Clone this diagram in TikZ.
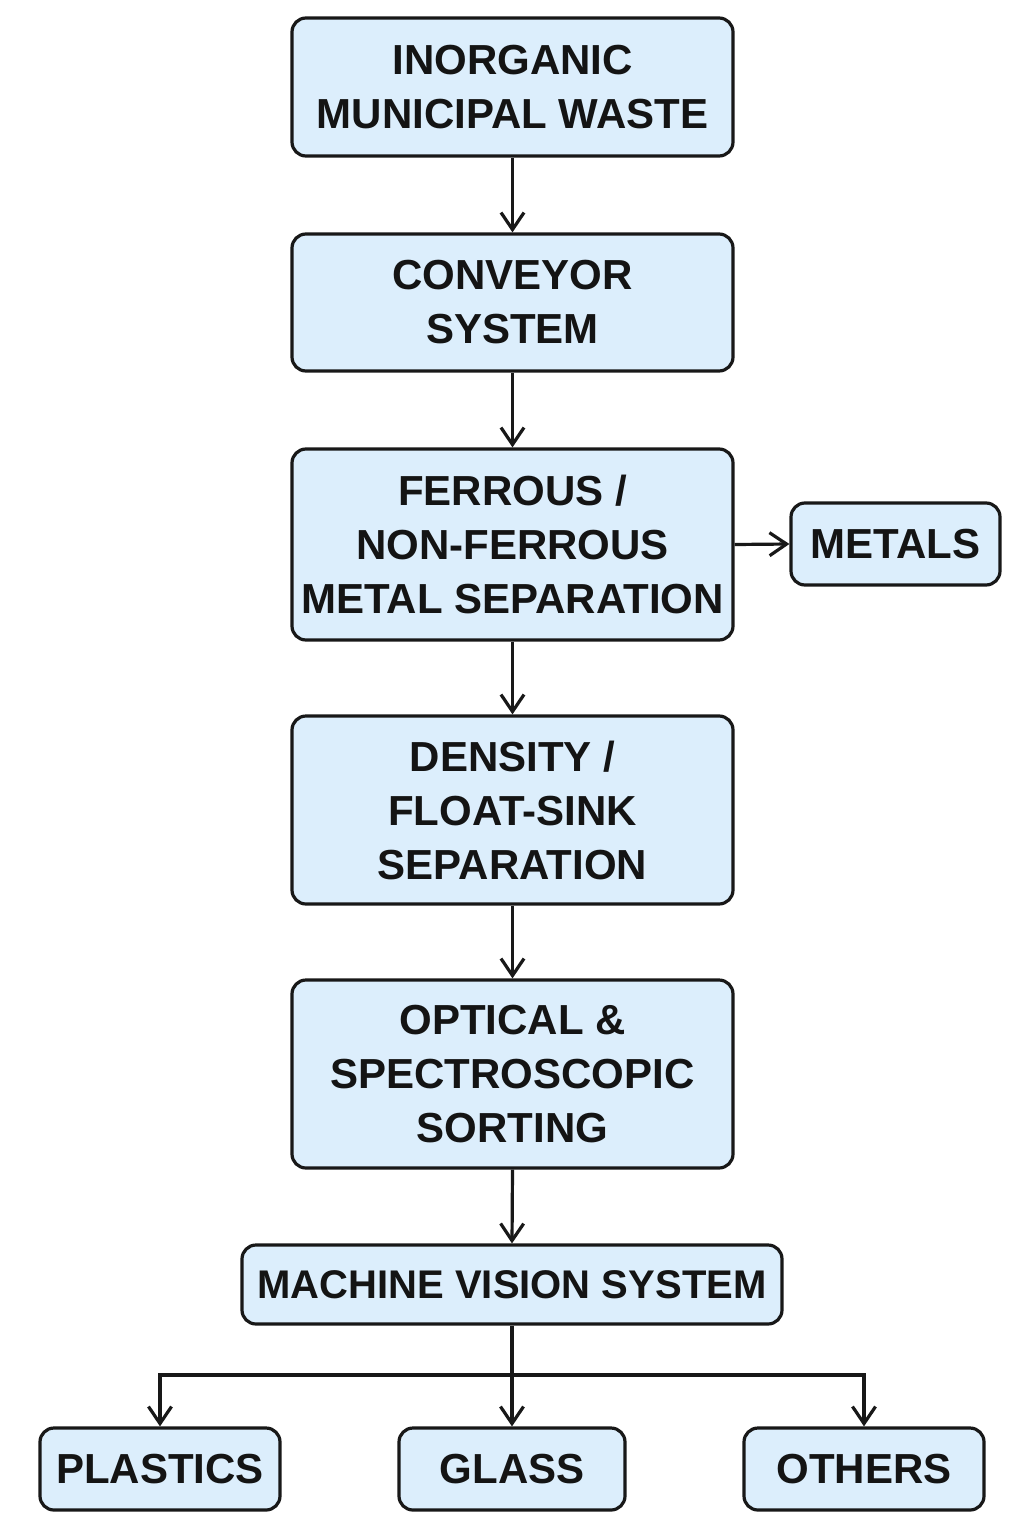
\documentclass[tikz,border=0pt]{standalone}
\usepackage{fontspec}
\setmainfont{Liberation Sans}
\usetikzlibrary{arrows.meta}
\definecolor{stagefill}{RGB}{220,238,252}
\definecolor{stageline}{RGB}{24,24,24}

\begin{document}
\begin{tikzpicture}[x=0.5pt, y=-0.5pt,
    stage/.style={draw=stageline, rounded corners=7pt, line width=1.6pt,
                  fill=stagefill, align=center, text=black!92,
                  inner xsep=2pt, inner ysep=0pt, minimum width=220.5pt,
                  font=\fontsize{21}{27}\selectfont\bfseries},
    outlet/.style={stage, minimum width=120pt, minimum height=41pt},
    flow/.style={draw=stageline, line width=1.6pt,
                 -{Straight Barb[length=8.5pt, width=11.5pt]}}
  ]
    \useasboundingbox (0,0) rectangle (1024,1536);
    \def\cx{512.5}

    \node[stage, minimum height=69pt]   (waste)    at (\cx,87)    {INORGANIC\\MUNICIPAL WASTE};
    \node[stage, minimum height=68.5pt] (conveyor) at (\cx,302.5) {CONVEYOR\\SYSTEM};
    \node[stage, minimum height=95.5pt] (metalsep) at (\cx,544.5) {FERROUS /\\NON-FERROUS\\METAL SEPARATION};
    \node[stage, minimum width=104.5pt, minimum height=41pt]
                                        (metals)   at (895.5,544) {METALS};
    \node[stage, minimum height=94pt]   (density)  at (\cx,810)   {DENSITY /\\FLOAT-SINK\\SEPARATION};
    \node[stage, minimum height=94pt]   (optical)  at (\cx,1074)  {OPTICAL \&\\SPECTROSCOPIC\\SORTING};
    \node[stage, minimum width=270pt, minimum height=39.5pt,
          font=\fontsize{20}{27}\selectfont\bfseries]
                                        (vision)   at (512,1284.5) {MACHINE VISION SYSTEM};

    \node[outlet]                      (plastics) at (160,1469) {PLASTICS};
    \node[outlet, minimum width=113pt] (glass)    at (512,1469) {GLASS};
    \node[outlet]                      (others)   at (864,1469) {OTHERS};

    \foreach \a/\b in {waste/conveyor, conveyor/metalsep, metalsep/density,
                       density/optical, optical/vision, vision/glass}
      \draw[flow] (\a.south) -- (\b.north);
    \draw[flow] (metalsep.east) -- (metals.west);

    \coordinate (split) at (512,1375);
    \foreach \o in {plastics, others}
      \draw[flow] (split) -| (\o.north);
  \end{tikzpicture}
\end{document}
